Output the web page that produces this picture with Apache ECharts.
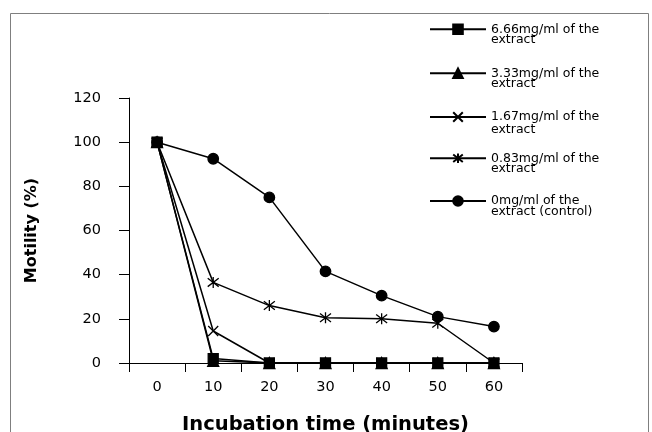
<!DOCTYPE html>
<html>
<head>
<meta charset="utf-8">
<script src="https://cdn.jsdelivr.net/npm/echarts@6/dist/echarts.min.js"></script>
<style>
html, body { margin: 0; padding: 0; background: #fff; }
#chart { width: 652px; height: 432px; }
</style>
</head>
<body>
<div id="chart"></div>
<script>
var categories = ['0', '10', '20', '30', '40', '50', '60'];
var yTicks = [0, 20, 40, 60, 80, 100, 120];

var seriesNames = [
	'6.66mg/ml of the\nextract',
	'3.33mg/ml of the\nextract',
	'1.67mg/ml of the\nextract',
	'0.83mg/ml of the\nextract',
	'0mg/ml of the\nextract (control)'
];
var conc666 = [100, 2, 0, 0, 0, 0, 0];
var conc333 = [100, 1, 0, 0, 0, 0, 0];
var conc167 = [100, 14.5, 0, 0, 0, 0, 0];
var conc083 = [100, 36.5, 26, 20.5, 20, 18, 0];
var control = [100, 92.5, 75, 41.5, 30.5, 21, 16.5];

var crossPath = 'path://M0,0L10,10M10,0L0,10';
var starPath = 'path://M0,0L10,10M10,0L0,10M5,-1.5L5,11.5';

var fontName = 'DejaVu Sans';

var chart = echarts.init(document.getElementById('chart'));

function makeSeries(name, data, symbol, size) {
	return {
		name: name,
		type: 'line',
		data: data,
		symbol: symbol,
		symbolSize: size,
		showAllSymbol: true,
		lineStyle: { color: '#000', width: 1.5 },
		itemStyle: { color: '#000', borderColor: '#000', borderWidth: 1.3 },
		emphasis: { disabled: true },
		animation: false
	};
}

// one legend block per series so each entry sits where it does in the figure
var legendY = [28, 72, 117, 157, 200];
var legendLH = [10.5, 10.5, 13, 10.5, 11];
var legends = [];
for (var i = 0; i < seriesNames.length; i++) {
	legends.push({
		orient: 'vertical',
		left: 429,
		top: legendY[i] - legendLH[i] * 1.5,
		padding: 0,
		itemWidth: 56,
		itemHeight: 12,
		itemGap: 0,
		selectedMode: false,
		data: [seriesNames[i]],
		formatter: function (name) { return ' \n' + name; },
		textStyle: {
			fontFamily: fontName,
			fontSize: 12.5,
			color: '#000',
			lineHeight: legendLH[i]
		}
	});
}

var option = {
	animation: false,
	graphic: [{
		type: 'rect',
		shape: { x: 10.5, y: 13.5, width: 638, height: 440 },
		style: { fill: 'none', stroke: '#7f7f7f', lineWidth: 1 },
		silent: true
	}],
	legend: legends,
	grid: { left: 129, right: 130, top: 98, bottom: 69, containLabel: false, outerBoundsMode: 'none' },
	xAxis: {
		type: 'category',
		data: categories,
		boundaryGap: true,
		name: 'Incubation time (minutes)',
		nameLocation: 'middle',
		nameGap: 52,
		nameTextStyle: {
			fontFamily: fontName,
			fontWeight: 'bold',
			fontSize: 19.5,
			color: '#000'
		},
		axisLine: { lineStyle: { color: '#000', width: 1 } },
		axisTick: { show: true, inside: false, length: 9, alignWithLabel: false, lineStyle: { color: '#000' } },
		axisLabel: { fontFamily: fontName, fontSize: 14.5, color: '#000', margin: 17 },
		splitLine: { show: false }
	},
	yAxis: {
		type: 'value',
		min: yTicks[0],
		max: yTicks[yTicks.length - 1],
		interval: 20,
		name: 'Motility (%)',
		nameLocation: 'middle',
		nameGap: 89,
		nameTextStyle: {
			fontFamily: fontName,
			fontWeight: 'bold',
			fontSize: 16,
			color: '#000'
		},
		axisLine: { show: true, lineStyle: { color: '#000', width: 1 } },
		axisTick: { show: true, inside: false, length: 10, lineStyle: { color: '#000' } },
		axisLabel: { fontFamily: fontName, fontSize: 14.5, color: '#000', margin: 28 },
		splitLine: { show: false }
	},
	series: [
		makeSeries(seriesNames[4], control, 'circle', 10.5),
		makeSeries(seriesNames[3], conc083, starPath, 11),
		makeSeries(seriesNames[2], conc167, crossPath, 10),
		makeSeries(seriesNames[1], conc333, 'triangle', 11),
		makeSeries(seriesNames[0], conc666, 'rect', 10)
	]
};

chart.setOption(option);
</script>
</body>
</html>
